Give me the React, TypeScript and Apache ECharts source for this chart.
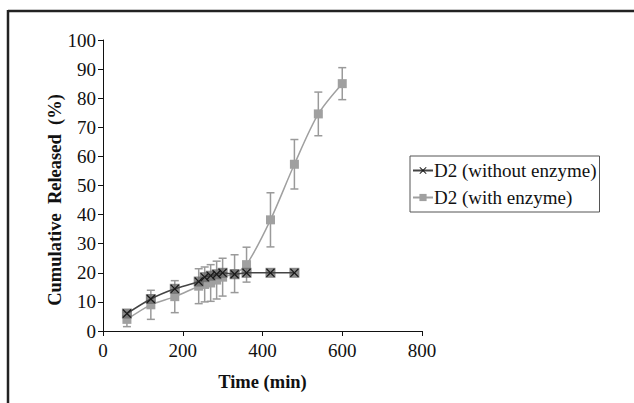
import React, { useEffect, useRef } from "react";
import * as echarts from "echarts";

const timeMin = [60, 120, 180, 240, 255, 270, 285, 300, 330, 360, 420, 480, 540, 600];
const withoutEnzyme = [6, 11, 14.5, 17, 18.5, 19, 19.5, 20, 19.5, 20, 20, 20, null, null];
const withEnzyme = [4, 9, 11.8, 15.4, 16, 16.5, 17.5, 18.5, 19.7, 22.8, 38.2, 57.3, 74.6, 85];
const withEnzymeErr = [2.5, 5, 5.5, 6, 6, 6.3, 6.5, 6.5, 6.5, 6, 9.3, 8.5, 7.5, 5.5];
const xTicks = [0, 200, 400, 600, 800];
const yTicks = [0, 10, 20, 30, 40, 50, 60, 70, 80, 90, 100];
const yTitle = "Cumulative  Released  (%)";
const xTitle = "Time (min)";

const FONT = "'Liberation Serif', 'Times New Roman', serif";
const X_PATH = "path://M0,1 L1,0 L5,4 L9,0 L10,1 L6,5 L10,9 L9,10 L5,6 L1,10 L0,9 L4,5 Z";

export default function App() {
  const ref = useRef<HTMLDivElement>(null);
  useEffect(() => {
    if (!ref.current) return;
    const chart = echarts.init(ref.current, null, { renderer: "svg" });
    const pairs = (ys: (number | null)[]) =>
      timeMin.map((t, i) => [t, ys[i]]).filter((p) => p[1] !== null);
    const errData = timeMin.map((t, i) => [t, withEnzyme[i] - withEnzymeErr[i], withEnzyme[i] + withEnzymeErr[i]]);
    chart.setOption({
      animation: false,
      backgroundColor: "#fff",
      textStyle: { fontFamily: FONT },
      grid: { left: 103, right: 212, top: 40, bottom: 72 },
      xAxis: {
        type: "value",
        min: xTicks[0],
        max: xTicks[xTicks.length - 1],
        interval: 200,
        name: xTitle,
        nameLocation: "middle",
        nameGap: 41,
        nameTextStyle: { fontFamily: FONT, fontWeight: "bold", fontSize: 18.5, color: "#111" },
        axisLine: { show: true, lineStyle: { color: "#111", width: 1 } },
        axisTick: { show: true, length: 5, lineStyle: { color: "#111" } },
        axisLabel: { fontFamily: FONT, fontSize: 19, color: "#111", margin: 10 },
        splitLine: { show: false },
      },
      yAxis: {
        type: "value",
        min: yTicks[0],
        max: yTicks[yTicks.length - 1],
        interval: 10,
        axisLine: { show: true, lineStyle: { color: "#111", width: 1 } },
        axisTick: { show: true, length: 5, lineStyle: { color: "#111" } },
        axisLabel: { fontFamily: FONT, fontSize: 19, color: "#111", margin: 7 },
        splitLine: { show: false },
      },
      legend: {
        orient: "vertical",
        left: 410,
        top: 156,
        padding: [5, 3, 5, 2],
        itemGap: 8,
        itemWidth: 20,
        itemHeight: 9,
        borderColor: "#555",
        borderWidth: 1,
        textStyle: { fontFamily: FONT, fontSize: 19, color: "#111", padding: [0, 0, 0, -4] },
        data: ["D2 (without enzyme)", "D2 (with enzyme)"],
      },
      series: [
        {
          name: "errbars",
          type: "custom",
          z: 1,
          data: errData,
          renderItem: (params: any, api: any) => {
            const x = api.value(0);
            const lo = api.coord([x, api.value(1)]);
            const hi = api.coord([x, api.value(2)]);
            const w = 4;
            const style = { stroke: "#9a9a9a", lineWidth: 1.5 };
            return {
              type: "group",
              children: [
                { type: "line", shape: { x1: lo[0], y1: lo[1], x2: hi[0], y2: hi[1] }, style },
                { type: "line", shape: { x1: lo[0] - w, y1: lo[1], x2: lo[0] + w, y2: lo[1] }, style },
                { type: "line", shape: { x1: hi[0] - w, y1: hi[1], x2: hi[0] + w, y2: hi[1] }, style },
              ],
            };
          },
        },
        {
          name: "D2 (with enzyme)",
          type: "line",
          z: 2,
          smooth: 0.3,
          data: pairs(withEnzyme),
          symbol: "rect",
          symbolSize: 9,
          itemStyle: { color: "#a0a0a0" },
          lineStyle: { color: "#a0a0a0", width: 1.5 },
        },
        {
          name: "bg-squares",
          type: "scatter",
          z: 3,
          data: pairs(withoutEnzyme),
          symbol: "rect",
          symbolSize: 10,
          itemStyle: { color: "#6a6a6a" },
          silent: true,
        },
        {
          name: "D2 (without enzyme)",
          type: "line",
          z: 4,
          smooth: 0.3,
          data: pairs(withoutEnzyme),
          symbol: X_PATH,
          symbolSize: 9,
          itemStyle: { color: "#1a1a1a" },
          lineStyle: { color: "#444", width: 1.5 },
        },
      ],
      graphic: [
        { type: "line", shape: { x1: 8, y1: 11, x2: 640, y2: 11 }, style: { stroke: "#222", lineWidth: 2.5 } },
        { type: "line", shape: { x1: 8, y1: 10, x2: 8, y2: 410 }, style: { stroke: "#222", lineWidth: 2.5 } },
        {
          type: "text",
          x: 55,
          y: 200,
          rotation: Math.PI / 2,
          style: {
            text: yTitle,
            font: "bold 18.5px " + FONT,
            fill: "#111",
            align: "center",
            verticalAlign: "middle",
          },
        },
      ],
    });
    return () => chart.dispose();
  }, []);
  return <div ref={ref} style={{ width: 634, height: 403, position: "absolute", left: 0, top: 0 }} />;
}
